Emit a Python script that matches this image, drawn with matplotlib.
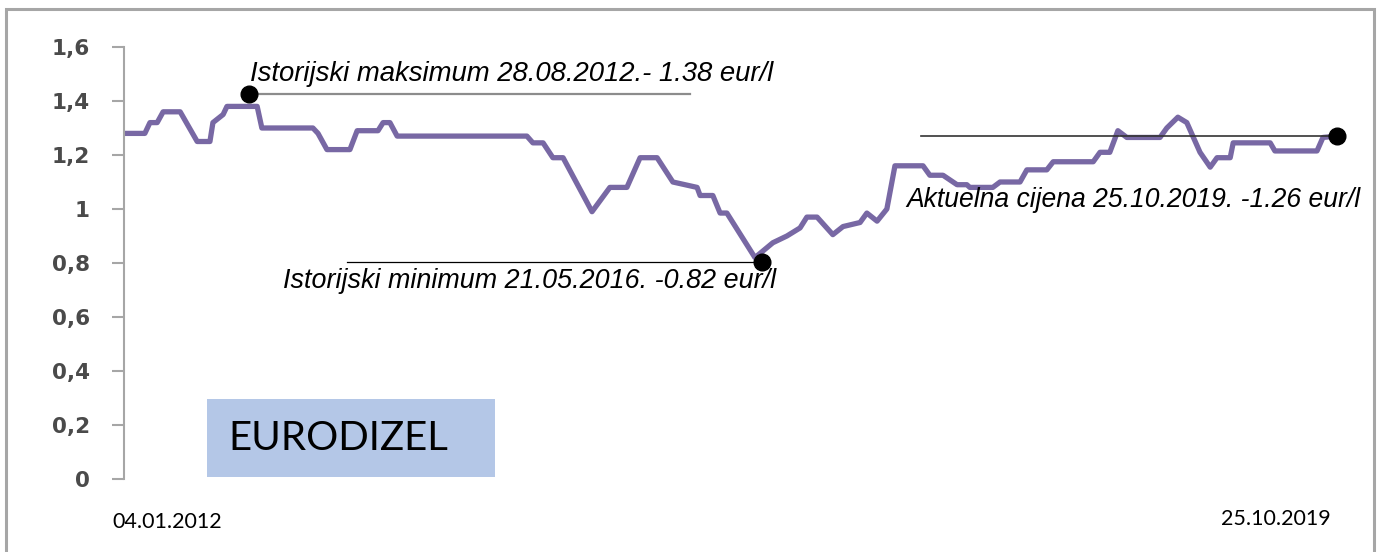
import matplotlib
matplotlib.use('Agg')
import matplotlib.pyplot as plt
from matplotlib.patches import Rectangle

#%% Data (days since 04.01.2012, price in eur/l)
days = [0, 49, 61, 78, 92, 132, 172, 202, 209, 233, 242, 313, 324, 444, 456, 477,
        531, 548, 597, 609, 625, 642, 947, 961, 985, 1008, 1032, 1100, 1142, 1182,
        1213, 1253, 1290, 1347, 1354, 1384, 1401, 1417, 1483, 1525, 1558, 1589,
        1605, 1629, 1666, 1690, 1730, 1746, 1770, 1793, 1812, 1878, 1894, 1925,
        1958, 1981, 1988, 2042, 2059, 2106, 2122, 2169, 2184, 2278, 2294, 2317,
        2336, 2357, 2435, 2451, 2477, 2498, 2529, 2553, 2569, 2600, 2607, 2694,
        2705, 2804, 2818, 2851]
price = [1.28, 1.28, 1.32, 1.32, 1.36, 1.36, 1.25, 1.25, 1.32, 1.35, 1.38, 1.38,
         1.30, 1.30, 1.28, 1.22, 1.22, 1.29, 1.29, 1.32, 1.32, 1.27, 1.27, 1.245,
         1.245, 1.19, 1.19, 0.99, 1.08, 1.08, 1.19, 1.19, 1.10, 1.08, 1.05, 1.05,
         0.985, 0.985, 0.82, 0.875, 0.90, 0.93, 0.97, 0.97, 0.905, 0.935, 0.95,
         0.985, 0.955, 1.0, 1.16, 1.16, 1.125, 1.125, 1.09, 1.09, 1.08, 1.08,
         1.10, 1.10, 1.145, 1.145, 1.175, 1.175, 1.21, 1.21, 1.29, 1.265, 1.265,
         1.30, 1.34, 1.32, 1.21, 1.155, 1.19, 1.19, 1.245, 1.245, 1.215, 1.215,
         1.265, 1.27]

# marked points: historic max, historic min, current price
mark_days = [294, 1500, 2851]
mark_vals = [1.425, 0.805, 1.27]
mark_texts = ['Istorijski maksimum 28.08.2012.- 1.38 eur/l',
              'Istorijski minimum 21.05.2016. -0.82 eur/l',
              'Aktuelna cijena 25.10.2019. -1.26 eur/l']

yticks = [0, 0.2, 0.4, 0.6, 0.8, 1.0, 1.2, 1.4, 1.6]
ytick_labels = ['0', '0,2', '0,4', '0,6', '0,8', '1', '1,2', '1,4', '1,6']
start_label = '04.01.2012'
end_label = '25.10.2019'

#%% Plot
fig = plt.figure(figsize=(13.79, 5.52), dpi=100)
ax = fig.add_axes([124/1379, 73/552, 1213/1379, 432/552])

ax.plot(days, price, color='#7868a4', lw=3.8, solid_joinstyle='round',
        solid_capstyle='round', zorder=2)

# leader lines
ax.plot([mark_days[0], 1330], [mark_vals[0]] * 2, color='#8c8c8c', lw=1.6, zorder=3)
ax.plot([524, mark_days[1]], [mark_vals[1]] * 2, color='black', lw=0.9, zorder=3)
ax.plot([1873, mark_days[2]], [mark_vals[2]] * 2, color='#333333', lw=1.2, zorder=3)
ax.plot(mark_days, mark_vals, 'o', color='black', ms=12, zorder=4, clip_on=False)

tfont = dict(family='Liberation Sans', style='italic', color='black')
ax.text(296, 1.50, mark_texts[0], va='center', ha='left', fontsize=19.8, **tfont)
ax.text(374, 0.733, mark_texts[1], va='center', ha='left', fontsize=19.4, **tfont)
ax.text(1838, 1.033, mark_texts[2], va='center', ha='left', fontsize=19.1,
        clip_on=False, **tfont)

ax.set_xlim(0, 2851)
ax.set_ylim(0, 1.6)
ax.set_yticks(yticks)
ax.set_yticklabels(ytick_labels, fontsize=15.5, color='#4a4a4a', fontweight='bold')
ax.set_xticks([])
for s in ['top', 'right', 'bottom']:
    ax.spines[s].set_visible(False)
ax.spines['left'].set_color('#a6a6a6')
ax.spines['left'].set_linewidth(1.5)
ax.tick_params(axis='y', length=8.5, width=1.5, color='#a6a6a6', pad=16)
ax.patch.set_alpha(0)

# label box
fig.patches.append(Rectangle((207/1379, 75/552), 288/1379, 78/552,
                             transform=fig.transFigure, facecolor='#b4c7e7',
                             edgecolor='none', zorder=1))
fig.text(228/1379, 114/552, 'EURODIZEL', family='Lato', fontsize=29,
         va='center', ha='left', color='black')

fig.text(167/1379, 30/552, start_label, family='Lato', fontsize=15.5,
         ha='center', va='center')
fig.text(1276/1379, 33/552, end_label, family='Lato', fontsize=15.5,
         ha='center', va='center')

# outer frame
fig.patches.append(Rectangle((6/1379, -0.02), 1368/1379, (543/552) + 0.02,
                             transform=fig.transFigure, fill=False,
                             edgecolor='#a6a6a6', lw=2.2))

fig.savefig('out.png', dpi=100)
